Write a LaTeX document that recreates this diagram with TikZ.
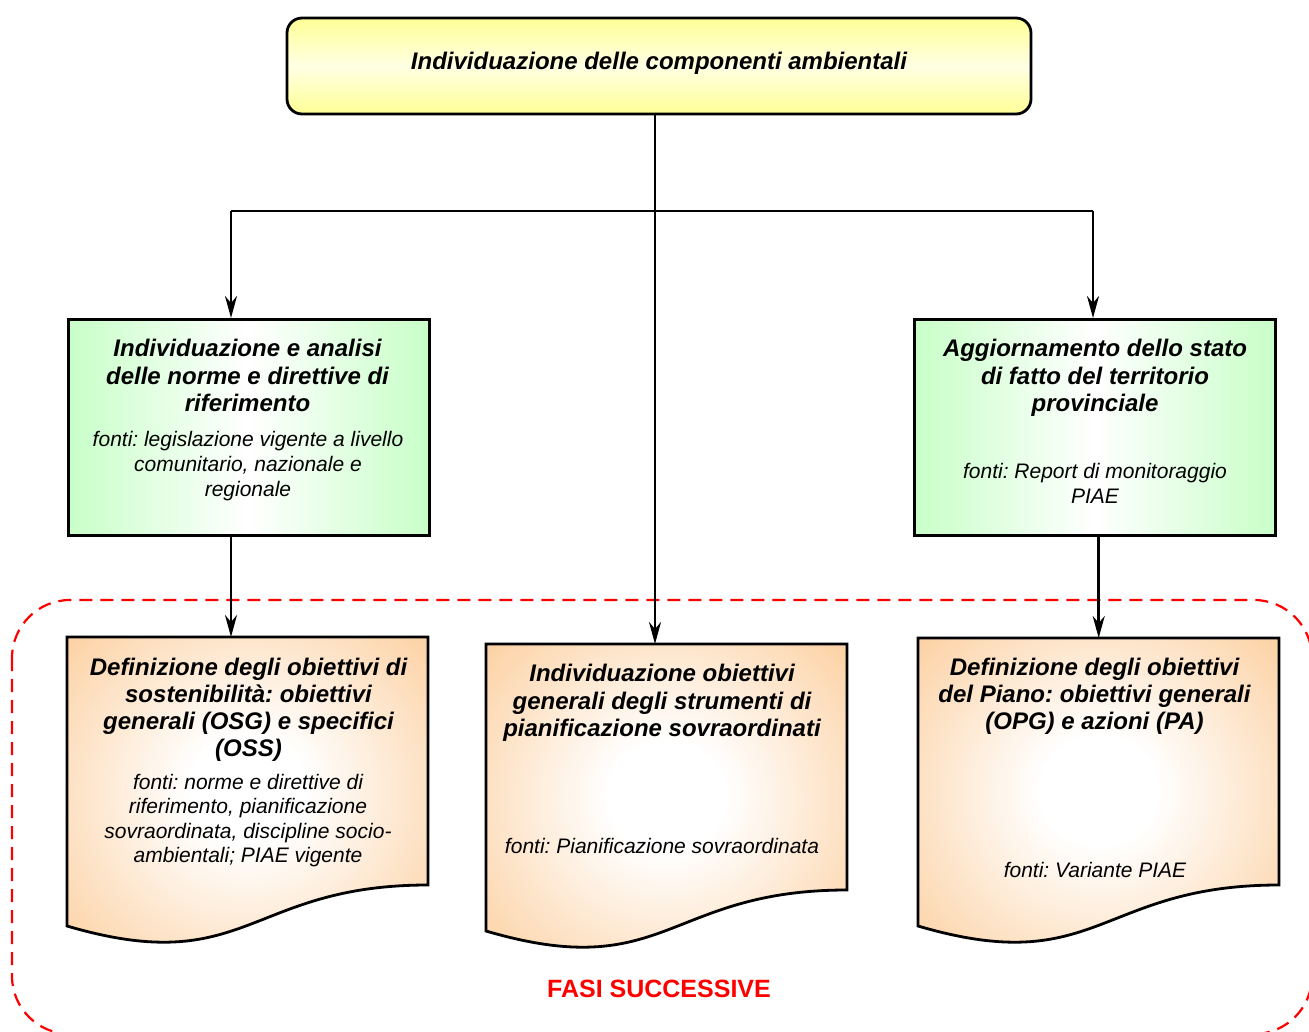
\documentclass[tikz,border=0pt]{standalone}
\usepackage{fontspec}
\setmainfont{Liberation Sans}
\usetikzlibrary{arrows.meta}

\definecolor{ylw}{RGB}{255,255,150}
\definecolor{ylwlight}{RGB}{255,255,228}
\definecolor{grn}{RGB}{200,255,200}
\definecolor{org}{RGB}{252,204,153}
\definecolor{fasired}{RGB}{255,0,0}

% soft white glow in the middle of the document boxes
\pgfdeclareradialshading{docglow}{\pgfpoint{0bp}{3bp}}{%
  color(0bp)=(white); color(8bp)=(white); color(37bp)=(org); color(80bp)=(org)}

\begin{document}
\frenchspacing
\begin{tikzpicture}[x=1pt,y=-1pt,
  conn/.style={line width=2.5pt,draw=black},
  arr/.style={conn,-{Stealth[length=22pt,width=12pt,inset=7pt]}},
  ttl/.style={font=\fontsize{24}{27.3}\selectfont\bfseries\itshape,align=center,inner sep=0pt},
  src/.style={font=\fontsize{21}{24.6}\selectfont\itshape,align=center,inner sep=0pt},
  topbox/.style={draw,line width=2.8pt,rounded corners=15pt,top color=ylw,bottom color=ylw,middle color=ylwlight,
    minimum width=744pt,minimum height=96pt,inner sep=0pt},
  greenbox/.style={draw,line width=2.8pt,left color=grn,right color=grn,middle color=white,
    minimum width=361pt,minimum height=216pt,inner sep=0pt,anchor=north west},
  docarea/.style={minimum width=361pt,inner sep=0pt,anchor=north west},
  docfill/.style={draw,line width=2.8pt,shading=docglow},
  phase/.style={draw=fasired,line width=2.2pt,dash pattern=on 13pt off 8pt,rounded corners=58pt}
]
\useasboundingbox (0,0) rectangle (1309,1032);

% dashed frame of the following phases
\draw[phase] (12,600) rectangle (1312,1034);
\node[font=\fontsize{25}{28}\selectfont\bfseries,text=fasired,inner sep=0pt,anchor=base] (fasi) at (659,997) {FASI SUCCESSIVE};

% top box
\node[topbox] (top) at (659,66) {};
\node[ttl,anchor=base] (topT) at (659,70) {Individuazione delle componenti ambientali};

% green boxes
\node[greenbox] (greenL) at (67,318) {};
\node[greenbox] (greenR) at (913,318) {};

% document boxes (wavy bottom edge)
\node[docarea,minimum height=248pt] (docL) at (67,637) {};
\node[docarea,minimum height=246pt] (docM) at (486,644) {};
\node[docarea,minimum height=247pt] (docR) at (918,638) {};
\path[docfill] (67,637) -- (428,637) -- (428,885) .. controls (247.5,885) and (247.5,979) .. (67,926) -- cycle;
\path[docfill] (486,644) -- (847,644) -- (847,890) .. controls (666.5,890) and (666.5,984) .. (486,931) -- cycle;
\path[docfill] (918,638) -- (1279,638) -- (1279,885) .. controls (1098.5,885) and (1098.5,979) .. (918,926) -- cycle;

% connectors
\coordinate (splitL) at (231,211);
\coordinate (splitR) at (1093,211);
\coordinate (hub) at (655,211);
\draw[conn] (splitL) -- (splitR);
\draw[arr] (top.south -| hub) -- (docM.north -| hub);
\draw[arr] (splitL) -- (greenL.north -| splitL);
\draw[arr] (splitR) -- (greenR.north -| splitR);
\draw[arr] (greenL.south -| splitL) -- (docL.north -| splitL);
\draw[arr] (greenR.south -| docR.north) -- (docR.north);

% texts of the green boxes
\node[ttl,anchor=north] (greenLT) at (247.5,339.2) {Individuazione e analisi\\delle norme e direttive di\\riferimento};
\node[src,anchor=north] (greenLS) at (248,431.4) {fonti: legislazione vigente a livello\\comunitario, nazionale e\\regionale};
\node[ttl,anchor=north] (greenRT) at (1095,339.2) {Aggiornamento dello stato\\di fatto del territorio\\provinciale};
\node[src,anchor=north] (greenRS) at (1095,463) {fonti: Report di monitoraggio\\PIAE};

% texts of the document boxes
\node[ttl,anchor=north] (docLT) at (248.5,657.5) {Definizione degli obiettivi di\\sostenibilità: obiettivi\\generali (OSG) e specifici\\(OSS)};
\node[src,anchor=north] (docLS) at (248,773.7) {fonti: norme e direttive di\\riferimento, pianificazione\\sovraordinata, discipline socio-\\ambientali; PIAE vigente};
\node[ttl,anchor=north] (docMT) at (662,664.2) {Individuazione obiettivi\\generali degli strumenti di\\pianificazione sovraordinati};
\node[src,anchor=base] (docMS) at (662,853.3) {fonti: Pianificazione sovraordinata};
\node[ttl,anchor=north] (docRT) at (1094.5,657.5) {Definizione degli obiettivi\\del Piano: obiettivi generali\\(OPG) e azioni (PA)};
\node[src,anchor=base] (docRS) at (1095,877.3) {fonti: Variante PIAE};
\end{tikzpicture}
\end{document}
